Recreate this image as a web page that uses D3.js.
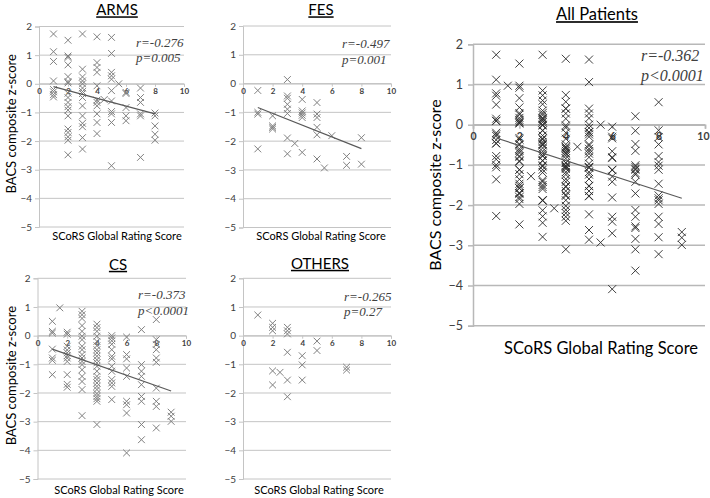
<!DOCTYPE html>
<html>
<head>
<meta charset="utf-8">
<script src="https://cdn.jsdelivr.net/npm/d3@7"></script>
<style>
  html, body { margin: 0; padding: 0; background: #fff; }
  svg { display: block; }
</style>
</head>
<body>
<svg id="chart" width="710" height="498"></svg>
<script>
// ---------------- DATA ----------------
const xTicks = [0, 2, 4, 6, 8, 10];
const yTicks = [2, 1, 0, -1, -2, -3, -4, -5];

const armsPoints = [
  [1,1.74],[1,1.12],[1,0.78],[1,0.1],[1,-0.2],[1,-0.28],[1,-0.38],[1,-0.46],
  [2,1.52],[2,0.97],[2,0.92],[2,0.66],[2,0.25],[2,0.08],[2,0.03],[2,-0.33],[2,-0.48],[2,-0.65],[2,-0.8],[2,-0.92],[2,-1.12],[2,-1.58],[2,-1.7],[2,-1.85],[2,-1.97],[2,-2.48],
  [3,1.74],[3,0.51],[3,0.24],[3,0.1],[3,0.0],[3,-0.15],[3,-0.27],[3,-0.34],[3,-0.48],[3,-0.77],[3,-1.12],[3,-1.38],[3,-1.5],[3,-1.88],[3,-2.28],
  [4,1.64],[4,0.74],[4,0.57],[4,0.4],[4,-0.07],[4,-0.57],[4,-0.65],[4,-0.77],[4,-1.05],[4,-1.35],[4,-1.74],
  [4.5,-0.55],
  [5,1.62],[5,1.06],[5,0.4],[5,0.28],[5,0.16],[5,-0.24],[5,-0.6],[5,-0.97],[5,-1.05],[5,-1.35],[5,-2.86],
  [5.5,0.0],
  [6,-0.3],[6,-0.34],[6,-0.83],[6,-1.12],[6,-1.29],
  [7,-0.15],[7,-0.48],[7,-0.65],[7,-1.05],[7,-1.12],[7,-2.57],
  [8,-1.02],[8,-1.12],[8,-1.47],[8,-1.76],[8,-1.97]
];
const fesPoints = [
  [1,-0.24],[1,-1.0],[1,-1.06],[1,-2.27],
  [2,-1.12],[2,-1.47],[2,-1.52],[2,-1.58],
  [3,0.14],[3,-0.43],[3,-0.51],[3,-0.72],[3,-0.89],[3,-1.04],[3,-1.89],[3,-2.44],
  [3.5,-2.08],
  [4,-0.55],[4,-0.95],[4,-1.02],[4,-1.1],[4,-1.18],[4,-2.39],
  [5,-0.66],[5,-1.06],[5,-1.18],[5,-1.52],[5,-1.78],[5,-2.62],
  [5.5,-2.93],
  [6,-1.81],
  [7,-2.53],[7,-2.84],
  [8,-1.88],[8,-2.8]
];
const csPoints = [
  [1,0.5],[1,0.15],[1,0.09],[1,-0.47],[1,-0.78],[1,-0.86],[1,-1.36],
  [1.5,0.97],
  [2,0.12],[2,0.05],[2,-0.37],[2,-0.5],[2,-0.6],[2,-0.7],[2,-0.78],[2,-0.9],[2,-1.36],[2,-1.7],[2,-1.8],
  [3,0.85],[3,0.73],[3,0.6],[3,0.35],[3,0.15],[3,-0.02],[3,-0.14],[3,-0.37],[3,-0.49],[3,-0.66],[3,-0.78],[3,-0.9],[3,-1.01],[3,-1.19],[3,-1.42],[3,-1.6],[3,-1.88],[3,-2.79],
  [4,0.4],[4,0.28],[4,0.15],[4,-0.02],[4,-0.2],[4,-0.35],[4,-0.49],[4,-0.6],[4,-0.72],[4,-0.84],[4,-0.95],[4,-1.07],[4,-1.24],[4,-1.42],[4,-1.53],[4,-1.65],[4,-1.77],[4,-1.88],[4,-2.02],[4,-2.12],[4,-2.2],[4,-2.29],[4,-3.1],
  [5,0.0],[5,-0.08],[5,-0.18],[5,-0.3],[5,-0.49],[5,-0.72],[5,-0.81],[5,-1.07],[5,-1.24],[5,-1.53],[5,-1.65],[5,-1.77],[5,-2.23],
  [6,-0.05],[6,-0.66],[6,-0.81],[6,-1.13],[6,-1.42],[6,-2.29],[6,-2.41],[6,-2.7],[6,-4.09],
  [7,0.21],[7,-1.01],[7,-1.24],[7,-1.42],[7,-1.71],[7,-2.12],[7,-2.29],[7,-3.1],[7,-3.63],
  [8,0.56],[8,-0.14],[8,-0.31],[8,-0.49],[8,-0.78],[8,-0.93],[8,-1.83],[8,-2.29],[8,-2.47],[8,-3.22],
  [9,-2.67],[9,-2.81],[9,-2.99]
];
const othersPoints = [
  [1,0.72],
  [2,0.43],[2,0.29],[2,0.17],[2,-1.23],[2,-1.72],
  [2.5,-1.28],
  [3,0.29],[3,0.17],[3,0.06],[3,-0.58],[3,-1.55],[3,-2.13],
  [4,-0.7],[4,-1.02],[4,-1.55],
  [5,-0.19],[5,-0.52],
  [7,-1.1],[7,-1.2]
];
const allPoints = armsPoints.concat(fesPoints, csPoints, othersPoints);

// fitted regression lines (endpoints)
const armsFit = [[1,-0.1],[8,-1.05]];
const fesFit = [[1,-0.83],[8,-2.26]];
const csFit = [[1,-0.47],[9,-1.93]];
const othersFit = null;
const allFit = [[1,-0.33],[9,-1.83]];

const titles = ["ARMS", "FES", "CS", "OTHERS", "All Patients"];
const statsText = [
  ["r=-0.276", "p=0.005"],
  ["r=-0.497", "p=0.001"],
  ["r=-0.373", "p<0.0001"],
  ["r=-0.265", "p=0.27"],
  ["r=-0.362", "p<0.0001"]
];
const xLabel = "SCoRS Global Rating Score";
const yLabel = "BACS composite z-score";

// ---------------- LAYOUT ----------------
const SANS = "Lato, 'Open Sans', sans-serif";
const SERIF = "'Liberation Serif', 'DejaVu Serif', serif";
const panels = [
  { pts: armsPoints, fit: armsFit, title: titles[0], stats: statsText[0],
    L: 39, R: 184, T: 26.5, B: 227, titleX: 117, titleY: 11.5, yLab: true, yLabX: 13,
    xLabX: 117, xLabY: 237, small: true, statsX: 136, statsY: [44, 59] },
  { pts: fesPoints, fit: fesFit, title: titles[1], stats: statsText[1],
    L: 243, R: 391, T: 26, B: 227.5, titleX: 321, titleY: 11.5, yLab: false,
    xLabX: 321, xLabY: 237, small: true, statsX: 342, statsY: [45, 61] },
  { pts: csPoints, fit: csFit, title: titles[2], stats: statsText[2],
    L: 37.5, R: 186, T: 278.3, B: 479, titleX: 118, titleY: 266, yLab: true, yLabX: 13,
    xLabX: 119, xLabY: 491, small: true, statsX: 138, statsY: [296, 312] },
  { pts: othersPoints, fit: othersFit, title: titles[3], stats: statsText[3],
    L: 243, R: 391, T: 278.3, B: 479, titleX: 320, titleY: 265, yLab: false,
    xLabX: 319, xLabY: 491, small: true, statsX: 344, statsY: [298, 313] },
  { pts: allPoints, fit: allFit, title: titles[4], stats: statsText[4],
    L: 473, R: 705, T: 44.3, B: 325.7, titleX: 597, titleY: 16, yLab: true, yLabX: 437,
    xLabX: 601, xLabY: 350, small: false, statsX: 641, statsY: [57, 77] }
];

const svg = d3.select("#chart");

panels.forEach(p => {
  const g = svg.append("g");
  const x = d3.scaleLinear().domain([0, 10]).range([p.L, p.R]);
  const y = d3.scaleLinear().domain([-5, 2]).range([p.B, p.T]);
  const gridColor = p.small ? "#c4c4c4" : "#b8b8b8";
  const gridW = p.small ? 1 : 1.5;

  // horizontal gridlines
  g.append("g").selectAll("line").data(yTicks).join("line")
    .attr("x1", p.L).attr("x2", p.R)
    .attr("y1", d => y(d)).attr("y2", d => y(d))
    .attr("stroke", gridColor).attr("stroke-width", gridW);

  // y axis
  const yAxis = g.append("g").attr("transform", `translate(${p.L},0)`)
    .call(d3.axisLeft(y).tickValues(yTicks).tickFormat(d3.format("d")).tickSize(p.small ? 4 : 5).tickPadding(p.small ? 3 : 5));
  yAxis.select(".domain").attr("stroke", gridColor).attr("stroke-width", gridW);
  yAxis.selectAll(".tick line").attr("stroke", gridColor).attr("stroke-width", gridW);
  yAxis.selectAll(".tick text").attr("fill", "#404040")
    .style("font-family", SANS).style("font-size", p.small ? "10px" : "12.5px");

  // x axis at y = 0
  const xAxis = g.append("g").attr("transform", `translate(0,${y(0)})`)
    .call(d3.axisBottom(x).tickValues(xTicks).tickFormat(d3.format("d")).tickSize(p.small ? 3 : 4).tickPadding(p.small ? 2 : 4));
  xAxis.select(".domain").attr("stroke", gridColor).attr("stroke-width", gridW);
  xAxis.selectAll(".tick line").attr("stroke", gridColor).attr("stroke-width", gridW);
  xAxis.selectAll(".tick text").attr("fill", "#404040")
    .style("font-family", SANS).style("font-weight", "bold")
    .style("font-size", p.small ? "8px" : "10.5px");
  if (!p.small) {
    // keep the last tick label inside the picture
    xAxis.selectAll(".tick text").filter(d => d === 10).attr("text-anchor", "end").attr("dx", "4");
  }

  // markers
  const s = p.small ? 3.4 : 4;
  g.append("g").selectAll("path").data(p.pts).join("path")
    .attr("d", d => {
      const cx = x(d[0]), cy = y(d[1]);
      return `M${cx - s},${cy - s}L${cx + s},${cy + s}M${cx - s},${cy + s}L${cx + s},${cy - s}`;
    })
    .attr("fill", "none")
    .attr("stroke", p.small ? "#808080" : "#2a2a2a")
    .attr("stroke-width", p.small ? 1 : 0.9);

  // regression line
  if (p.fit) {
    g.append("path")
      .datum(p.fit)
      .attr("d", d3.line().x(d => x(d[0])).y(d => y(d[1])))
      .attr("fill", "none").attr("stroke", "#595959").attr("stroke-width", 1.1);
  }

  // stats text
  g.append("g").selectAll("text").data(p.stats).join("text")
    .attr("x", p.statsX).attr("y", (d, i) => p.statsY[i])
    .attr("dominant-baseline", "middle")
    .style("font-family", SERIF).style("font-style", "italic")
    .style("font-size", p.small ? "13px" : "16px")
    .attr("fill", "#404040")
    .text(d => d);

  // title
  g.append("text").attr("x", p.titleX).attr("y", p.titleY)
    .attr("text-anchor", "middle").attr("dominant-baseline", "middle")
    .style("font-family", SANS).style("font-size", p.small ? "15px" : "16.5px")
    .style("text-decoration", "underline")
    .attr("fill", "#000")
    .text(p.title);

  // x label
  g.append("text").attr("x", p.xLabX).attr("y", p.xLabY)
    .attr("text-anchor", "middle").attr("dominant-baseline", "middle")
    .style("font-family", SANS).style("font-size", p.small ? "11px" : "16.5px")
    .attr("fill", "#000")
    .text(xLabel);

  // y label
  if (p.yLab) {
    const cy = (p.T + p.B) / 2 - (p.small ? 3 : 0);
    g.append("text")
      .attr("transform", `translate(${p.yLabX},${cy}) rotate(-90)`)
      .attr("text-anchor", "middle").attr("dominant-baseline", "middle")
      .style("font-family", SANS).style("font-size", p.small ? "13px" : "16px")
      .attr("fill", "#000")
      .text(yLabel);
  }
});
</script>
</body>
</html>
